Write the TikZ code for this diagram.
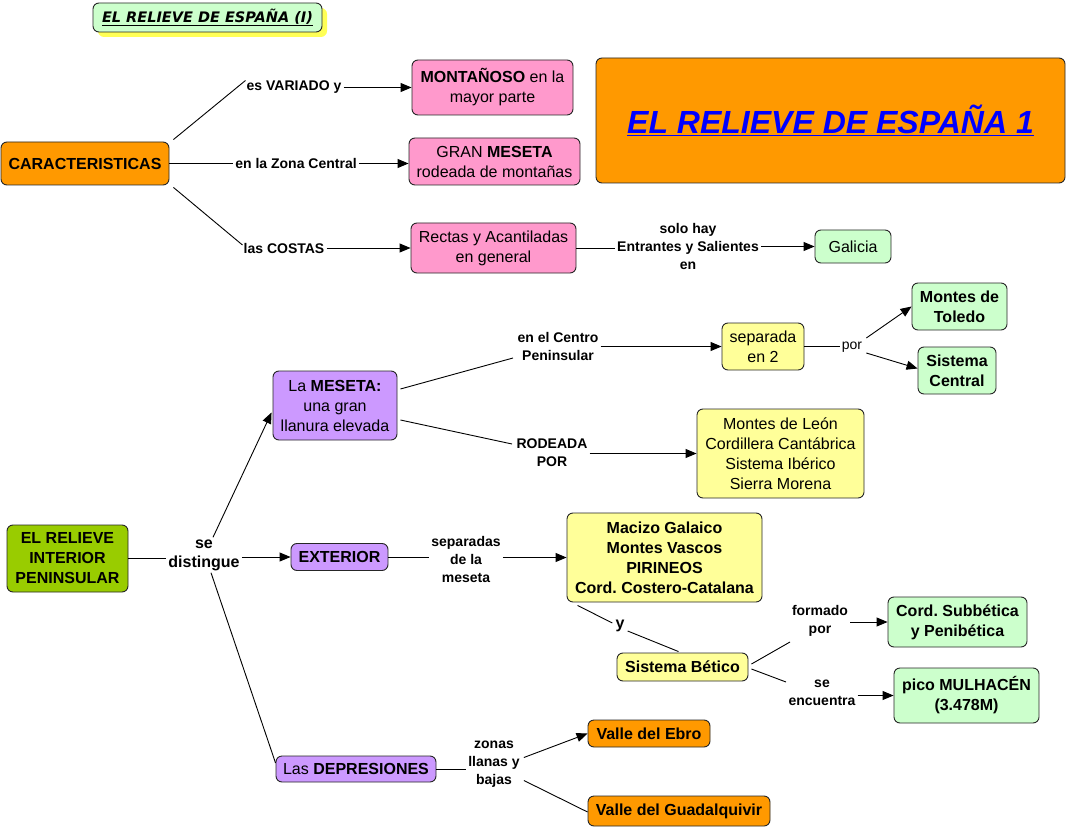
\documentclass[tikz,border=0pt]{standalone}
\usepackage{fontspec}
\setmainfont{Liberation Sans}
\newfontfamily\verd{DejaVu Sans}
\usetikzlibrary{arrows.meta,calc}
\definecolor{corange}{HTML}{FF9900}
\definecolor{cpink}{HTML}{FF99CC}
\definecolor{cmint}{HTML}{CCFFCC}
\definecolor{cyel}{HTML}{FFFF99}
\definecolor{cpurp}{HTML}{CC99FF}
\definecolor{cgreen}{HTML}{99CC00}
\definecolor{cshadow}{HTML}{FFFF55}
\definecolor{cblue}{HTML}{0000FF}
\frenchspacing
\begin{document}
\begin{tikzpicture}[x=1pt,y=-1pt,
  box/.style={draw=black!85, rounded corners=6pt, line width=0.9pt, align=center,
    inner sep=0pt, font=\fontsize{16}{20}\selectfont},
  bbox/.style={box, font=\fontsize{16}{20}\selectfont\bfseries},
  lab/.style={align=center, inner sep=2pt, font=\fontsize{14}{18}\selectfont\bfseries},
  con/.style={line width=0.9pt},
  arr/.style={con, -{Triangle[length=11pt,width=9pt]}}]
\useasboundingbox (0,0) rectangle (1068,829);

% title boxes
\fill[cshadow, rounded corners=6pt] (98,8) rectangle (327,37);
\node[box, fill=cmint, minimum width=229pt, minimum height=29pt,
  font=\verd\fontsize{14.5}{16}\selectfont\bfseries\itshape] (title) at (207.5,17.5)
  {\underline{EL RELIEVE DE ESPAÑA (I)}};
\node[box, fill=corange, minimum width=469pt, minimum height=125pt,
  font=\fontsize{32}{36}\selectfont\bfseries\itshape] (big) at (830.5,120.5)
  {\color{cblue}\underline{EL RELIEVE DE ESPAÑA 1}};

% upper group
\node[bbox, fill=corange, minimum width=168pt, minimum height=43pt] (car) at (85,163.5) {CARACTERISTICAS};
\node[box, fill=cpink, minimum width=161pt, minimum height=55pt] (mont) at (492.5,87.5) {\textbf{MONTAÑOSO} en la\\mayor parte};
\node[box, fill=cpink, minimum width=171pt, minimum height=47pt] (gran) at (494.5,161.5) {GRAN \textbf{MESETA}\\rodeada de montañas};
\node[box, fill=cpink, minimum width=165pt, minimum height=50pt] (rect) at (493.5,248) {Rectas y Acantiladas\\en general};
\node[box, fill=cmint, minimum width=76pt, minimum height=33pt] (gal) at (853,246.5) {Galicia};

\node[lab] (l1) at (294,87.5) {es VARIADO y};
\node[lab] (l2) at (296,163.5) {en la Zona Central};
\node[lab] (l3) at (284,248) {las COSTAS};
\node[lab] (l4) at (688,246) {solo hay\\Entrantes y Salientes\\en};

\draw[con] ($(car.north east)+(4,-2)$) -- ($(l1.west)+(1,-7)$);
\draw[arr] (l1.east) -- (mont.west);
\draw[con] (car.east) -- (l2.west);
\draw[arr] (l2.east) -- (l2.east -| gran.west);
\draw[con] ($(car.south east)+(4,2)$) -- ($(l3.west)+(1,-3)$);
\draw[arr] (l3.east) -- (rect.west);
\draw[con] (rect.east) -- (rect.east -| l4.west);
\draw[arr] (l4.east |- gal.west) -- (gal.west);

% lower group
\node[bbox, fill=cgreen, minimum width=121pt, minimum height=67pt] (rel) at (67.5,558.5) {EL RELIEVE\\INTERIOR\\PENINSULAR};
\node[lab, font=\fontsize{16}{19}\selectfont\bfseries] (l5) at (204,555) {se\\distingue};
\node[bbox, fill=cpurp, minimum width=97pt, minimum height=27pt] (ext) at (339.5,557) {EXTERIOR};
\node[box, fill=cpurp, minimum width=124pt, minimum height=69pt] (mes) at (335,405.5) {La \textbf{MESETA:}\\una gran\\llanura elevada};
\node[box, fill=cpurp, minimum width=160pt, minimum height=26pt] (dep) at (356,769) {Las \textbf{DEPRESIONES}};

\draw[con] (rel.east) -- (rel.east -| l5.west);
\draw[arr] (l5.east |- ext.west) -- (ext.west);
\draw[arr] ($(l5.north)+(9,0)$) -- ($(mes.west)+(-1,7)$);
\draw[con] ($(l5.south)+(7,0)$) -- ($(dep.west)+(0,-6)$);

% meseta branch
\node[lab] (l7) at (558,346.5) {en el Centro\\Peninsular};
\node[box, fill=cyel, minimum width=82pt, minimum height=47pt] (sep) at (763,346.5) {separada\\en 2};
\node[lab, font=\fontsize{14}{18}\selectfont] (l8) at (852,347) {por};
\node[bbox, fill=cmint, minimum width=95pt, minimum height=47pt] (tol) at (959.5,306.5) {Montes de\\Toledo};
\node[bbox, fill=cmint, minimum width=78pt, minimum height=47pt] (cen) at (957,370.5) {Sistema\\Central};
\node[lab] (l9) at (552,453) {RODEADA\\POR};
\node[box, fill=cyel, minimum width=167pt, minimum height=89pt] (leon) at (780.5,453.5) {Montes de León\\Cordillera Cantábrica\\Sistema Ibérico\\Sierra Morena};

\draw[con] ($(mes.east)+(3,-16.5)$) -- ($(l7.center)+(-45,11.5)$);
\draw[arr] (l7.east |- sep.west) -- (sep.west);
\draw[con] (sep.east) -- (sep.east -| l8.west);
\draw[arr] ($(l8.east)+(2,-9)$) -- (tol.west);
\draw[arr] ($(l8.east)+(2,6)$) -- ($(cen.west)+(0,-2)$);
\draw[con] ($(mes.east)+(3,14.5)$) -- ($(l9.center)+(-40,-9)$);
\draw[arr] (l9.east |- leon.west) -- (leon.west);

% exterior branch
\node[lab] (l6) at (466,559) {separadas\\de la\\meseta};
\node[bbox, fill=cyel, minimum width=195pt, minimum height=89pt] (mac) at (664.5,557.5) {Macizo Galaico\\Montes Vascos\\PIRINEOS\\Cord. Costero-Catalana};
\node[lab, font=\fontsize{16}{19}\selectfont\bfseries] (l10) at (620,626) {y};
\node[bbox, fill=cyel, minimum width=131pt, minimum height=28pt] (bet) at (682.5,667) {Sistema Bético};
\node[lab] (l11) at (820,621) {formado\\por};
\node[bbox, fill=cmint, minimum width=139pt, minimum height=50pt] (sub) at (957.5,622) {Cord. Subbética\\y Penibética};
\node[lab] (l12) at (822,693) {se\\encuentra};
\node[bbox, fill=cmint, minimum width=145pt, minimum height=55pt] (mul) at (966.5,695.5) {pico MULHACÉN\\(3.478M)};

\draw[con] (ext.east) -- (ext.east -| l6.west);
\draw[arr] (l6.east |- mac.west) -- (mac.west);
\draw[con] ($(mac.south west)+(11,3)$) -- ($(l10.west)+(-1,-3)$);
\draw[con] ($(l10.east)+(1,5)$) -- ($(bet.north)+(-4,-1)$);
\draw[con] ($(bet.east)+(3,-3)$) -- ($(l11.center)+(-30,21)$);
\draw[arr] (l11.east |- sub.west) -- (sub.west);
\draw[con] ($(bet.east)+(3,2)$) -- ($(l12.center)+(-36,-11)$);
\draw[arr] (l12.east |- mul.west) -- (mul.west);

% depresiones branch
\node[lab] (l13) at (494,764.5) {zonas\\llanas y\\bajas};
\node[bbox, fill=corange, minimum width=122pt, minimum height=27pt] (ebro) at (649,733.5) {Valle del Ebro};
\node[bbox, fill=corange, minimum width=182pt, minimum height=30pt] (guad) at (679,811) {Valle del Guadalquivir};

\draw[con] (dep.east) -- (dep.east -| l13.west);
\draw[arr] ($(l13.east)+(2,-7)$) -- (ebro.west);
\draw[con] ($(l13.east)+(2,16)$) -- ($(guad.west)+(0,1)$);
\end{tikzpicture}
\end{document}
